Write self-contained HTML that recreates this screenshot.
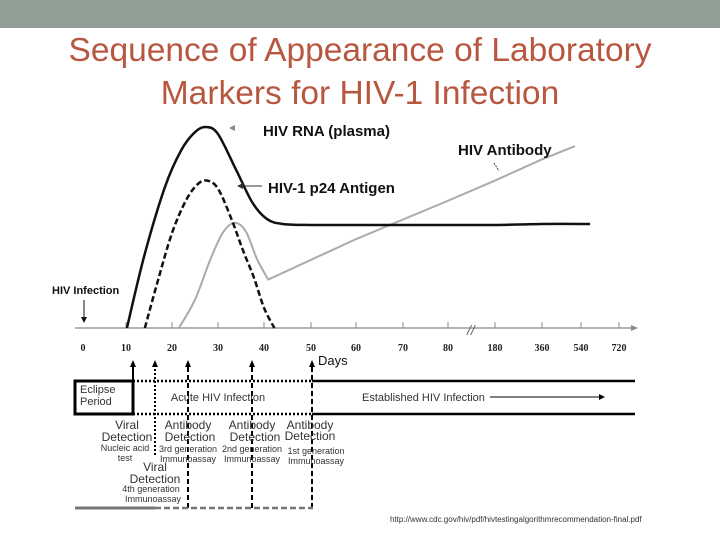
<!DOCTYPE html>
<html><head><meta charset="utf-8"><style>
body{margin:0;width:720px;height:540px;background:#fff;overflow:hidden;font-family:"Liberation Sans",sans-serif}
svg{position:absolute;left:0;top:0}
</style></head><body>
<svg id="c" width="720" height="540">
<rect x="0" y="0" width="720" height="28" fill="#919e95"/>
<text x="360" y="61" font-size="33.5" fill="#b8573f" text-anchor="middle">Sequence of Appearance of Laboratory</text>
<text x="360" y="104" font-size="33.5" fill="#b8573f" text-anchor="middle">Markers for HIV-1 Infection</text>
<g id="axis"></g>
<g id="curves"></g>
<g font-weight="bold" font-size="15" fill="#111">
<text x="263" y="136">HIV RNA (plasma)</text>
<text x="458" y="155">HIV Antibody</text>
<text x="268" y="193">HIV-1 p24 Antigen</text>
<text x="52" y="294" font-size="11">HIV Infection</text>
</g>
<polygon points="229,128 235,125 235,131" fill="#888"/>
<line x1="262" y1="186" x2="242" y2="186" stroke="#333"/>
<polygon points="237,186 243,183 243,189" fill="#333"/>
<line x1="494" y1="163" x2="499" y2="171" stroke="#444" stroke-dasharray="2,1"/>
<line x1="84" y1="300" x2="84" y2="318" stroke="#111"/>
<polygon points="81,317 87,317 84,323" fill="#111"/>
<g>
<rect x="75" y="381" width="58" height="33" fill="none" stroke="#000" stroke-width="3"/>
<text x="80" y="393" font-size="11" fill="#333">Eclipse</text>
<text x="80" y="405" font-size="11" fill="#333">Period</text>
<line x1="133" y1="381" x2="312" y2="381" stroke="#000" stroke-width="2.5" stroke-dasharray="2,2"/>
<line x1="133" y1="414" x2="312" y2="414" stroke="#000" stroke-width="2.5" stroke-dasharray="2,2"/>
<text x="218" y="401" font-size="11" fill="#333" text-anchor="middle">Acute HIV Infection</text>
<line x1="312" y1="381" x2="635" y2="381" stroke="#000" stroke-width="2.5"/>
<line x1="312" y1="414" x2="635" y2="414" stroke="#000" stroke-width="2.5"/>
<text x="362" y="401" font-size="11" fill="#333">Established HIV Infection</text>
<line x1="490" y1="397" x2="600" y2="397" stroke="#000"/>
<polygon points="605,397 599,394 599,400" fill="#000"/>
<text x="318" y="365" font-size="13" fill="#111">Days</text>
<line x1="133" y1="414" x2="133" y2="366" stroke="#000" stroke-width="2"/>
<line x1="155" y1="455" x2="155" y2="366" stroke="#000" stroke-width="2" stroke-dasharray="2,2"/>
<line x1="188" y1="508" x2="188" y2="366" stroke="#000" stroke-width="2" stroke-dasharray="5,3"/>
<line x1="252" y1="508" x2="252" y2="366" stroke="#000" stroke-width="2" stroke-dasharray="5,3"/>
<line x1="312" y1="508" x2="312" y2="366" stroke="#000" stroke-width="2" stroke-dasharray="5,3"/>
<g fill="#000"><polygon points="130,367 136,367 133,360"/><polygon points="152,367 158,367 155,360"/><polygon points="185,367 191,367 188,360"/><polygon points="249,367 255,367 252,360"/><polygon points="309,367 315,367 312,360"/></g>
<line x1="75" y1="508" x2="155" y2="508" stroke="#777" stroke-width="3"/>
<line x1="155" y1="508" x2="313" y2="508" stroke="#777" stroke-width="2.5" stroke-dasharray="6,3"/>
<g fill="#333" text-anchor="middle">
<text x="127" y="429" font-size="12">Viral</text><text x="127" y="441" font-size="12">Detection</text>
<text x="125" y="451" font-size="9">Nucleic acid</text><text x="125" y="461" font-size="9">test</text>
<text x="188" y="429" font-size="12">Antibody</text><text x="190" y="441" font-size="12">Detection</text>
<text x="188" y="452" font-size="9">3rd generation</text><text x="188" y="462" font-size="9">Immunoassay</text>
<text x="252" y="429" font-size="12">Antibody</text><text x="255" y="441" font-size="12">Detection</text>
<text x="252" y="452" font-size="9">2nd generation</text><text x="252" y="462" font-size="9">Immunoassay</text>
<text x="310" y="429" font-size="12">Antibody</text><text x="310" y="440" font-size="12">Detection</text>
<text x="316" y="454" font-size="9">1st generation</text><text x="316" y="464" font-size="9">Immunoassay</text>
<text x="155" y="471" font-size="12">Viral</text><text x="155" y="483" font-size="12">Detection</text>
<text x="151" y="492" font-size="9">4th generation</text><text x="153" y="502" font-size="9">Immunoassay</text>
</g>
<text x="390" y="522" font-size="8" fill="#333">http://www.cdc.gov/hiv/pdf/hivtestingalgorithmrecommendation-final.pdf</text>
</g>
</svg>
<script>
const tickDays=[0,10,20,30,40,50,60,70,80,180,360,540,720];
const tickPos=[83,126,172,218,264,311,356,403,448,495,542,581,619];
const rnaDays=[10.2,14,18.5,22,25,27.4,30,34,37.5,40.6,44,50,60,80,180,360,583];
const rnaVals=[0,36,70,88,97,99.5,96,78,62,54,51.5,51,51,51,51,51.5,51.5];
const p24Days=[14.1,17,20,23,25.5,27.6,30,33,35.5,37.8,40,42.2];
const p24Vals=[0,24,47,63,71,73,69,53.5,38,25,10,0];
const abDays=[21.5,25,28.3,31,33.5,36,38.5,40.9,60,80,180,360,512];
const abVals=[0,14,33.7,47,52,48,34,24,44,63,73,83.5,90];
const svg=document.getElementById('c');
const NS='http://www.w3.org/2000/svg';
function xs(d){for(let i=0;i<tickDays.length-1;i++){if(d<=tickDays[i+1]){const a=tickDays[i],b=tickDays[i+1];return tickPos[i]+(d-a)/(b-a)*(tickPos[i+1]-tickPos[i]);}}return tickPos[tickPos.length-1];}
function ys(v){return 328-v*2.02;}
const ax=document.getElementById('axis');
function mk(t,a,p){const e=document.createElementNS(NS,t);for(const k in a)e.setAttribute(k,a[k]);(p||ax).appendChild(e);return e;}
const axl=mk('line',{x1:75,y1:328,x2:632,y2:328,stroke:'#888','stroke-width':1.2});


mk('polygon',{points:'638,328 631,325 631,331',fill:'#888'});
tickDays.forEach((d,i)=>{
  if(i>0){const t=mk('line',{x1:xs(d),y1:322,x2:xs(d),y2:328,stroke:'#888'});
  
  }
  const l=mk('text',{x:xs(d),y:351,'font-size':10,'font-weight':'bold','font-family':'Liberation Serif, serif','text-anchor':'middle',fill:'#222'});
  l.textContent=d;
  
  
});
const br=mk('text',{x:467,y:335,'font-size':14,fill:'#666','font-style':'italic'});br.textContent='//';


const cg=document.getElementById('curves');
function path(ds,vs,st,name,linearFrom){
  let pts=ds.map((d,i)=>[xs(d),ys(vs[i])]);
  let s='M'+pts[0][0]+','+pts[0][1];
  for(let i=1;i<pts.length;i++){
    if(linearFrom!==undefined&&i>linearFrom){s+=` L${pts[i][0]},${pts[i][1]}`;continue;}
    const p0=pts[Math.max(0,i-2)],p1=pts[i-1],p2=pts[i];
    const p3=(linearFrom!==undefined&&i===linearFrom)?p2:pts[Math.min(pts.length-1,i+1)];
    const c1x=p1[0]+(p2[0]-p0[0])/6,c1y=p1[1]+(p2[1]-p0[1])/6,c2x=p2[0]-(p3[0]-p1[0])/6,c2y=p2[1]-(p3[1]-p1[1])/6;
    s+=` C${c1x},${c1y} ${c2x},${c2y} ${p2[0]},${p2[1]}`;}
  const e=mk('path',Object.assign({d:s,fill:'none'},st),cg);
  
  
}
path(abDays,abVals,{stroke:'#aaa','stroke-width':2},'antibody-curve',7);
path(rnaDays,rnaVals,{stroke:'#111','stroke-width':2.5},'rna-curve');
path(p24Days,p24Vals,{stroke:'#111','stroke-width':2.5,'stroke-dasharray':'6,3'},'p24-curve');
</script>
</body></html>
